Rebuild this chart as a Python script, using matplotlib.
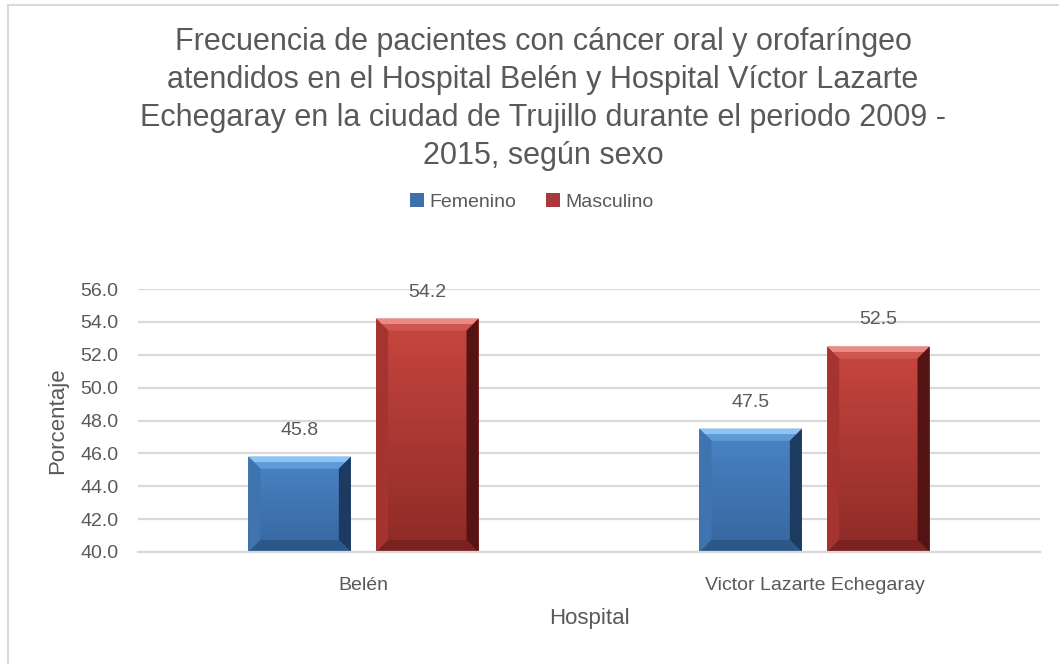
import matplotlib
matplotlib.use("Agg")
import matplotlib.pyplot as plt
import matplotlib.transforms as mtransforms
from matplotlib.patches import Polygon, Rectangle
from matplotlib.colors import LinearSegmentedColormap
import numpy as np

categories = ["Belén", "Victor Lazarte Echegaray"]
series_names = ["Femenino", "Masculino"]
femenino = [45.8, 47.5]
masculino = [54.2, 52.5]
yticks = [40.0, 42.0, 44.0, 46.0, 48.0, 50.0, 52.0, 54.0, 56.0]

title = ("Frecuencia de pacientes con cáncer oral y orofaríngeo\n"
         "atendidos en el Hospital Belén y Hospital Víctor Lazarte\n"
         "Echegaray en la ciudad de Trujillo durante el periodo 2009 -\n"
         "2015, según sexo")

plt.rcParams['font.family'] = ['Liberation Sans', 'DejaVu Sans']
TXT = "#595959"
GRID = "#D9D9D9"

styles = {
    "Femenino": dict(top="#4A84C6", bot="#3766A0", tb1="#8CC4F4", tb2="#5E9AD8",
                     lb="#3F74B0", rb="#1D3A60", bb="#2C5889", leg="#3E6FAA"),
    "Masculino": dict(top="#C8463F", bot="#8E2A27", tb1="#EC8A85", tb2="#CF5752",
                      lb="#A53431", rb="#551414", bb="#7A2220", leg="#A8383A"),
}

W, H, DPI = 1059, 664, 100
fig = plt.figure(figsize=(W / DPI, H / DPI), dpi=DPI)
fig.patch.set_facecolor("white")

ax = fig.add_axes([138 / W, 1 - 552 / H, (1040 - 138) / W, (552 - 289) / H])
ax.set_ylim(40, 56)
x = np.arange(len(categories))
ax.set_xlim(-0.5, len(categories) - 0.5)
bw = 0.227
gap = 0.056
offs = [-(bw + gap) / 2, (bw + gap) / 2]

ax.set_yticks(yticks)
ax.set_yticklabels([f"{v:.1f}" for v in yticks], fontsize=14, color=TXT)
ax.set_xticks(x)
ax.set_xticklabels(categories, fontsize=14, color=TXT)
ax.tick_params(axis="both", length=0)
ax.tick_params(axis="y", pad=14)
ax.tick_params(axis="x", pad=18)
ax.yaxis.grid(True, color=GRID, linewidth=1.6)
ax.set_axisbelow(True)
for s in ["top", "right", "left"]:
    ax.spines[s].set_visible(False)
ax.spines["bottom"].set_color(GRID)
ax.spines["bottom"].set_linewidth(1.6)
ax.set_ylabel("Porcentaje", fontsize=16, color=TXT)
ax.set_xlabel("Hospital", fontsize=16, color=TXT, labelpad=10)
ax.yaxis.set_label_coords(-(138 - 68) / (1040 - 138), 0.5)

ident = mtransforms.IdentityTransform()
bevel = 12

for name, vals, off in [("Femenino", femenino, offs[0]), ("Masculino", masculino, offs[1])]:
    st = styles[name]
    bars = ax.bar(x + off, np.array(vals) - 40, bottom=40, width=bw,
                  color=st["top"], linewidth=0, zorder=2)
    cmap = LinearSegmentedColormap.from_list("g", [st["bot"], st["top"]])
    for b, v in zip(bars, vals):
        x0d, y0d = b.get_x(), b.get_y()
        x1d, y1d = x0d + b.get_width(), y0d + b.get_height()
        grad = np.linspace(0, 1, 64).reshape(-1, 1)
        im = ax.imshow(grad, extent=[x0d, x1d, y0d, y1d], origin="lower",
                       cmap=cmap, aspect="auto", zorder=2.1)
        im.set_clip_path(b)
        (X0, Y0), (X1, Y1) = ax.transData.transform([(x0d, y0d), (x1d, y1d)])
        k = bevel
        h = k * 0.45
        polys = [
            ([(X0, Y1), (X1, Y1), (X1 - k, Y1 - k), (X0 + k, Y1 - k)], st["tb2"]),
            ([(X0, Y1), (X1, Y1), (X1 - h, Y1 - h), (X0 + h, Y1 - h)], st["tb1"]),
            ([(X0, Y0), (X0, Y1), (X0 + k, Y1 - k), (X0 + k, Y0 + k)], st["lb"]),
            ([(X1, Y0), (X1, Y1), (X1 - k, Y1 - k), (X1 - k, Y0 + k)], st["rb"]),
            ([(X0, Y0), (X1, Y0), (X1 - k, Y0 + k), (X0 + k, Y0 + k)], st["bb"]),
        ]
        for pts, c in polys:
            ax.add_patch(Polygon(pts, closed=True, transform=ident, facecolor=c,
                                 edgecolor="none", zorder=2.2, clip_on=False))
        ax.annotate(f"{v:.1f}", (b.get_x() + b.get_width() / 2, v),
                    xytext=(0, 13), textcoords="offset points", ha="center",
                    va="bottom", fontsize=14, color=TXT)

handles = [Rectangle((0, 0), 1, 1, facecolor=styles[n]["leg"], edgecolor="none")
           for n in series_names]
fig.legend(handles, series_names, loc="center", bbox_to_anchor=(532 / W, 1 - 202 / H),
           ncol=2, frameon=False, fontsize=14, handlelength=0.7, handleheight=0.7,
           handletextpad=0.3, columnspacing=1.5, labelcolor=TXT)

fig.text(543 / W, 1 - 99 / H, title, ha="center", va="center", fontsize=22,
         color=TXT, linespacing=1.36)

fig.add_artist(Rectangle((8 / W, -0.1), 1.2, 1 - 5 / H + 0.1, transform=fig.transFigure,
                         facecolor="none", edgecolor=GRID, linewidth=1.5))

fig.savefig("out.png", dpi=DPI)
